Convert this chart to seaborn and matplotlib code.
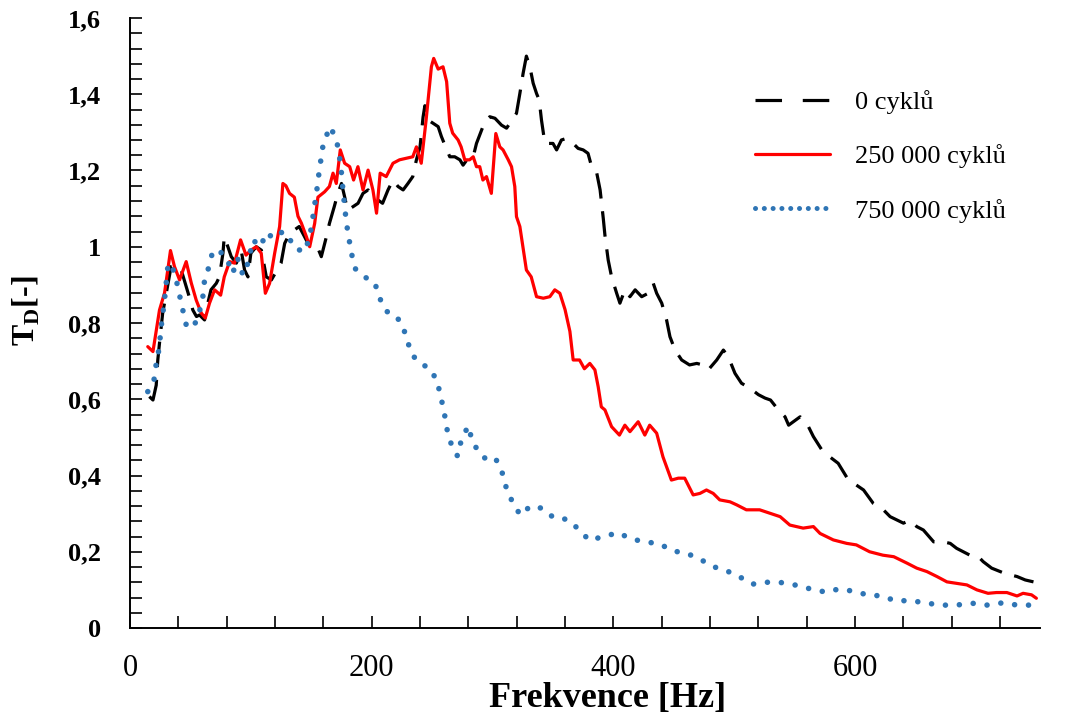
import matplotlib
matplotlib.use("Agg")
import matplotlib.pyplot as plt
from matplotlib.lines import Line2D
from matplotlib.ticker import MultipleLocator, FuncFormatter
import seaborn as sns
import pandas as pd

# ---- data: transmissibility T_D versus frequency for three load histories ----
freq_0 = [16, 19, 21.7, 23, 24.4, 27, 30, 34, 38, 42.4, 46.5, 49, 52, 55, 57.5, 61.7, 64.4, 67, 71.4, 74,
          76.9, 78, 81, 83.8, 88, 92, 94.8, 97.6, 100, 104.5, 108.7, 112.8, 117, 121, 125, 128, 130.7, 136,
          140, 144.5, 148.7, 152.8, 155.5, 158.3, 162.5, 165, 169, 172, 175, 177.6, 180, 184.5, 188.7, 192.8,
          197, 201, 205, 209, 213.5, 217.6, 221.8, 226, 230, 234, 237, 240, 242.5, 244, 245.5, 250.8, 255,
          257.7, 260.5, 264.6, 268.7, 273, 275.6, 279.7, 284, 286.7, 289.4, 293.6, 297.7, 302, 307.4, 311.6,
          317, 319.8, 322.6, 325.3, 328, 330.9, 333.6, 336.4, 338.6, 340.5, 343.3, 350, 353, 357, 361, 366.7,
          370.8, 375, 379, 382, 386, 389, 391.6, 393, 395.7, 398.5, 402.7, 405.4, 409.5, 413.7, 418, 423.4,
          428.8, 433, 435.8, 440, 444, 446.8, 451, 456.5, 463, 469, 474, 478.5, 485.5, 491, 495, 500.6, 506,
          513, 520, 525.5, 530, 536.5, 542, 545, 554.5, 560, 565.5, 572.5, 579, 586, 594.5, 601, 607, 615,
          623.4, 629, 640, 645.5, 651, 656.5, 665, 673, 678.7, 684, 695, 700.8, 706, 713, 724, 734, 740.8,
          747.6]
td_0 = [0.607, 0.598, 0.637, 0.703, 0.747, 0.825, 0.878, 0.948, 0.952, 0.939, 0.895, 0.869, 0.834, 0.817,
        0.821, 0.808, 0.852, 0.887, 0.904, 0.921, 0.983, 1.026, 1.0, 0.974, 0.957, 0.991, 0.939, 0.921, 0.983,
        1.0, 0.991, 0.921, 0.913, 0.935, 0.957, 1.009, 1.026, 1.044, 1.053, 1.026, 1.0, 1.0, 0.996, 0.974,
        1.026, 1.061, 1.105, 1.14, 1.166, 1.131, 1.096, 1.105, 1.114, 1.14, 1.149, 1.131, 1.123, 1.114, 1.149,
        1.175, 1.158, 1.149, 1.166, 1.184, 1.228, 1.262, 1.34, 1.37, 1.335, 1.324, 1.315, 1.289, 1.267, 1.236,
        1.236, 1.228, 1.214, 1.232, 1.236, 1.271, 1.293, 1.328, 1.341, 1.337, 1.319, 1.311, 1.337, 1.35,
        1.402, 1.455, 1.5, 1.472, 1.429, 1.402, 1.385, 1.332, 1.271, 1.271, 1.254, 1.28, 1.284, 1.271, 1.258,
        1.254, 1.245, 1.21, 1.197, 1.149, 1.075, 1.03, 0.965, 0.921, 0.878, 0.852, 0.887, 0.869, 0.887, 0.869,
        0.878, 0.904, 0.878, 0.852, 0.808, 0.764, 0.729, 0.703, 0.69, 0.694, 0.69, 0.677, 0.703, 0.729, 0.712,
        0.668, 0.642, 0.629, 0.612, 0.603, 0.598, 0.572, 0.554, 0.532, 0.554, 0.537, 0.502, 0.467, 0.449,
        0.432, 0.388, 0.375, 0.362, 0.327, 0.31, 0.292, 0.275, 0.283, 0.266, 0.257, 0.226, 0.226, 0.222,
        0.209, 0.191, 0.191, 0.174, 0.157, 0.143, 0.135, 0.126, 0.121]

freq_250k = [14.7, 19, 24.4, 28.6, 33.5, 36.8, 41, 46.5, 50.7, 54.8, 59, 62.3, 65.8, 70, 75, 78, 82.4, 86.5,
             91.5, 96, 100, 104.5, 108.6, 112, 115.5, 119.7, 123.8, 126.5, 129, 132, 136, 139, 141.8, 146,
             148.7, 152.8, 155.5, 161, 165, 168, 170.7, 174, 177.6, 181.8, 185, 188.6, 192.8, 197, 201, 204,
             207, 212, 217.6, 223, 228.7, 234, 237, 241, 245, 249.4, 251.3, 255, 259, 262, 264.6, 267, 271.5,
             274, 277, 281, 284, 286.7, 289.4, 292, 295, 299, 302.7, 306, 308.7, 313, 315.7, 318.4, 319.8,
             322.6, 328, 332, 336.4, 342, 347.4, 351.5, 355.7, 360, 364, 366.7, 372, 376, 380.5, 384.7, 387.4,
             390, 393, 398.5, 405, 409.5, 413.7, 420.5, 426, 430, 435.8, 441, 448, 453.7, 459, 466, 471.6, 477,
             482.6, 488, 496.5, 502, 510, 521, 529.6, 538, 546, 557, 565.5, 571, 582, 593, 601, 612, 623, 632,
             643, 651, 659.4, 667.7, 676, 684, 692.5, 700.8, 710, 717, 725.6, 734, 739, 746, 750]
td_250k = [0.738, 0.725, 0.834, 0.879, 0.99, 0.948, 0.913, 0.961, 0.905, 0.86, 0.826, 0.813, 0.852, 0.887,
           0.873, 0.921, 0.961, 0.957, 1.018, 0.978, 0.991, 1.0, 0.983, 0.878, 0.904, 0.983, 1.053, 1.166, 1.16,
           1.14, 1.13, 1.08, 1.062, 1.026, 1.0, 1.061, 1.13, 1.144, 1.158, 1.193, 1.166, 1.254, 1.219, 1.21,
           1.175, 1.21, 1.149, 1.201, 1.149, 1.088, 1.193, 1.184, 1.219, 1.228, 1.232, 1.236, 1.262, 1.219,
           1.332, 1.472, 1.494, 1.466, 1.472, 1.433, 1.324, 1.298, 1.28, 1.262, 1.228, 1.228, 1.236, 1.21, 1.21,
           1.175, 1.184, 1.14, 1.297, 1.262, 1.254, 1.228, 1.21, 1.158, 1.079, 1.053, 0.939, 0.921, 0.869, 0.865,
           0.869, 0.887, 0.878, 0.835, 0.778, 0.703, 0.703, 0.68, 0.694, 0.677, 0.633, 0.58, 0.572, 0.528, 0.506,
           0.532, 0.515, 0.541, 0.506, 0.532, 0.511, 0.449, 0.388, 0.393, 0.393, 0.349, 0.353, 0.362, 0.353,
           0.336, 0.331, 0.323, 0.31, 0.31, 0.301, 0.292, 0.27, 0.262, 0.266, 0.248, 0.231, 0.222, 0.218, 0.2,
           0.191, 0.187, 0.17, 0.157, 0.148, 0.135, 0.121, 0.117, 0.113, 0.1, 0.091, 0.093, 0.093, 0.084, 0.091,
           0.087, 0.078]

freq_750k = [14.7, 20.3, 21.7, 24.4, 25.3, 27, 28.6, 30, 31.3, 34, 38, 41, 43.7, 46.5, 49, 52.8, 57.5, 60.3,
             61.7, 65.8, 68.6, 72.7, 77, 82.4, 85, 89, 93.4, 96, 99, 101.7, 108, 112.8, 119, 126.5, 131, 136,
             144.5, 148.7, 151, 152.8, 154.7, 156.4, 158.3, 160.2, 166, 171.3, 173.5, 175, 176.2, 177.6, 179,
             181, 183.2, 186.7, 194, 202.5, 206.6, 212.5, 218, 224.6, 229, 232.5, 239, 248, 254, 257, 260, 262,
             265.4, 271, 274, 279.8, 283.4, 290, 295.8, 302.5, 308, 311.5, 316.5, 323, 331.4, 341, 350.7, 361.7,
             371, 380, 392, 404, 415, 427, 438.5, 449.5, 460.6, 472, 482.6, 493.7, 504, 515, 527, 539, 551.7,
             563.6, 576, 586, 598, 610, 622, 633.7, 645.5, 658, 670.4, 683.6, 696.6, 709.6, 722, 734.4, 746.4]
td_750k = [0.62, 0.655, 0.694, 0.738, 0.777, 0.821, 0.862, 0.906, 0.948, 0.957, 0.917, 0.873, 0.834, 0.795,
           0.799, 0.79, 0.83, 0.869, 0.913, 0.952, 0.991, 0.987, 0.983, 0.952, 0.93, 0.97, 0.926, 0.939, 0.978,
           1.018, 1.0, 1.037, 1.022, 1.04, 1.028, 0.996, 0.987, 1.026, 1.07, 1.11, 1.151, 1.194, 1.236, 1.276,
           1.315, 1.273, 1.232, 1.193, 1.149, 1.107, 1.064, 1.025, 0.983, 0.941, 0.921, 0.906, 0.865, 0.83,
           0.825, 0.8, 0.761, 0.721, 0.696, 0.681, 0.649, 0.609, 0.566, 0.525, 0.486, 0.451, 0.491, 0.53, 0.489,
           0.454, 0.441, 0.445, 0.407, 0.366, 0.33, 0.296, 0.32, 0.314, 0.289, 0.285, 0.26, 0.23, 0.24, 0.25,
           0.233, 0.226, 0.22, 0.202, 0.196, 0.18, 0.161, 0.15, 0.135, 0.115, 0.12, 0.119, 0.112, 0.102, 0.094,
           0.102, 0.097, 0.087, 0.084, 0.071, 0.072, 0.066, 0.06, 0.06, 0.065, 0.06, 0.066, 0.06, 0.06]

series_labels = ["0 cyklů", "250 000 cyklů", "750 000 cyklů"]
x_ticks = [0, 200, 400, 600]
x_label = "Frekvence [Hz]"
y_label = "T$_\\mathrm{D}$[-]"

# ---- style ----
sns.set_theme(style="ticks")
plt.rcParams["font.family"] = ["Liberation Serif", "DejaVu Serif"]
plt.rcParams["mathtext.fontset"] = "custom"
plt.rcParams["mathtext.rm"] = "Liberation Serif:bold"
plt.rcParams["mathtext.bf"] = "Liberation Serif:bold"
for key in ("text.color", "axes.labelcolor", "xtick.color", "ytick.color", "axes.edgecolor"):
    plt.rcParams[key] = "black"

BLACK, RED, BLUE = "#000000", "#FF0000", "#2F75B5"

fig = plt.figure(figsize=(10.71, 7.21), dpi=100)
ax = fig.add_axes([130 / 1071, 93 / 721, 910 / 1071, 610 / 721])

frames = [
    pd.DataFrame({"f": freq_0, "td": td_0}),
    pd.DataFrame({"f": freq_250k, "td": td_250k}),
    pd.DataFrame({"f": freq_750k, "td": td_750k}),
]

# 0 cycles: long black dashes
sns.lineplot(data=frames[0], x="f", y="td", ax=ax, color=BLACK, linewidth=2.3,
             estimator=None, sort=False, legend=False)
l0 = ax.lines[-1]
l0.set_dashes((8, 4))

# 250 000 cycles: solid red
sns.lineplot(data=frames[1], x="f", y="td", ax=ax, color=RED, linewidth=2.3,
             estimator=None, sort=False, legend=False)

# 750 000 cycles: round blue dots
sns.lineplot(data=frames[2], x="f", y="td", ax=ax, color=BLUE, linewidth=4.0,
             estimator=None, sort=False, legend=False)
l2 = ax.lines[-1]
l2.set_dashes((0.01, 2.5))
l2.set_dash_capstyle("round")

# ---- axes ----
ax.set_xlim(0, 753)
ax.set_ylim(0, 1.6)
ax.set_xticks(x_ticks)
ax.xaxis.set_minor_locator(MultipleLocator(40))
ax.yaxis.set_major_locator(MultipleLocator(0.2))
ax.yaxis.set_minor_locator(MultipleLocator(0.04))


def comma_fmt(v, _pos):
    s = f"{v:.1f}".rstrip("0").rstrip(".")
    return s.replace(".", ",")


ax.yaxis.set_major_formatter(FuncFormatter(comma_fmt))
ax.xaxis.set_major_formatter(FuncFormatter(lambda v, p: f"{v:.0f}"))

sns.despine(ax=ax)
for side in ("left", "bottom"):
    ax.spines[side].set_linewidth(1.4)
    ax.spines[side].set_color("black")

ax.tick_params(which="both", direction="in", length=8.5, width=1.2, color="black")
ax.tick_params(axis="x", which="major", pad=19, labelsize=22, labelcolor="black")
ax.tick_params(axis="y", which="major", pad=21, labelsize=19, labelcolor="black")
for t in ax.get_yticklabels():
    t.set_fontweight("bold")

ax.set_xlabel(x_label, fontsize=26, fontweight="bold", va="top", color="black")
ax.xaxis.set_label_coords(0.525, -0.088)
ax.set_ylabel(y_label, fontsize=23, fontweight="bold", color="black")
ax.yaxis.set_label_coords(-0.097, 0.52)

# ---- legend ----
handles = [
    Line2D([], [], color=BLACK, linewidth=2.3, dashes=(8.3, 6.5)),
    Line2D([], [], color=RED, linewidth=2.3),
    Line2D([], [], color=BLUE, linewidth=3.6, dashes=(0.01, 1.75), dash_capstyle="round"),
]
leg = ax.legend(handles, series_labels, loc="upper left",
                bbox_to_anchor=(755 / 1071, 1 - 90 / 721), bbox_transform=fig.transFigure,
                frameon=False, fontsize=19, handlelength=2.85, handletextpad=0.95,
                labelspacing=1.15, borderpad=0, borderaxespad=0)
for txt in leg.get_texts():
    txt.set_color("black")

fig.savefig("out.png", dpi=100)
